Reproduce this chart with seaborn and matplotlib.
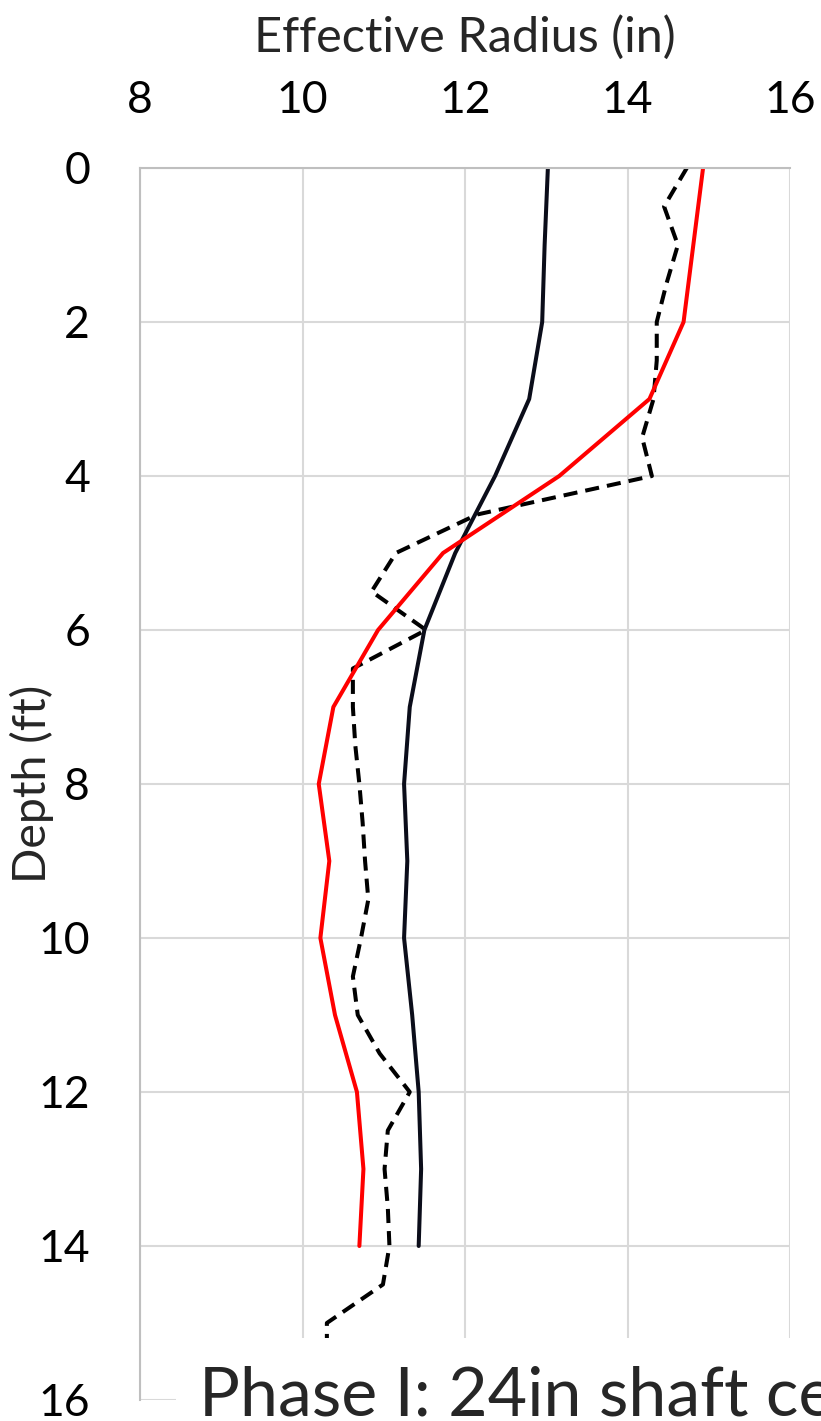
import numpy as np
import pandas as pd
import seaborn as sns
import matplotlib
matplotlib.use("Agg")
import matplotlib.pyplot as plt
from matplotlib.patches import Rectangle

# ---- data ----
depth_solid = [0, 1, 2, 3, 4, 5, 6, 7, 8, 9, 10, 11, 12, 13, 14]
radius_black = [13.02, 12.98, 12.95, 12.79, 12.37, 11.88, 11.50, 11.32, 11.25, 11.29,
                11.25, 11.35, 11.43, 11.46, 11.43]
radius_red = [14.93, 14.81, 14.69, 14.27, 13.16, 11.73, 10.93, 10.38, 10.20, 10.33,
              10.22, 10.40, 10.67, 10.75, 10.70]
depth_dashed = [0, 0.5, 1, 1.5, 2, 2.5, 3, 3.5, 4, 4.5, 5, 5.5, 6, 6.5, 7, 7.5, 8, 8.5,
                9, 9.5, 10, 10.5, 11, 11.5, 12, 12.5, 13, 13.5, 14, 14.5, 15, 15.5]
radius_dashed = [14.73, 14.45, 14.62, 14.48, 14.36, 14.36, 14.32, 14.18, 14.30, 12.15,
                 11.15, 10.85, 11.52, 10.62, 10.62, 10.65, 10.70, 10.74, 10.77, 10.81,
                 10.72, 10.62, 10.68, 10.95, 11.32, 11.05, 11.01, 11.05, 11.07, 10.99,
                 10.30, 10.30]
x_ticks = [8, 10, 12, 14, 16]
y_ticks = [0, 2, 4, 6, 8, 10, 12, 14, 16]
legend_text = "Phase I: 24in shaft ce"

sns.set_theme(style="white")
plt.rcParams["font.family"] = ["Lato", "DejaVu Sans"]

W, H = 821, 1421
fig = plt.figure(figsize=(W / 100, H / 100), dpi=100)
ax = fig.add_axes([140 / W, 1 - 1400 / H, 650 / W, 1232 / H])

df_b = pd.DataFrame({"r": radius_black, "d": depth_solid})
df_r = pd.DataFrame({"r": radius_red, "d": depth_solid})
df_k = pd.DataFrame({"r": radius_dashed, "d": depth_dashed})

sns.lineplot(data=df_k, x="r", y="d", orient="y", sort=False, estimator=None,
             color="black", lw=2.9, ax=ax, linestyle=(0, (3.5, 2.0)))
sns.lineplot(data=df_b, x="r", y="d", orient="y", sort=False, estimator=None,
             color="#0b0d1a", lw=2.9, ax=ax)
sns.lineplot(data=df_r, x="r", y="d", orient="y", sort=False, estimator=None,
             color="#ff0000", lw=2.9, ax=ax)

ax.set_xlim(8, 16)
ax.set_ylim(16, 0)
ax.set_xticks(x_ticks)
ax.set_yticks(y_ticks)
ax.xaxis.tick_top()
ax.xaxis.set_label_position("top")
ax.tick_params(axis="both", length=0, labelsize=32, colors="black")
ax.tick_params(axis="x", pad=34)
ax.tick_params(axis="y", pad=36)
ax.grid(True, color="#d9d9d9", lw=1.5)
for s in ["right", "bottom"]:
    ax.spines[s].set_visible(False)
for s in ["left", "top"]:
    ax.spines[s].set_color("#bfbfbf")
    ax.spines[s].set_linewidth(1.5)
ax.set_xlabel("Effective Radius (in)", fontsize=35)
ax.xaxis.set_label_coords(0.5, 1.094)
ax.set_ylabel("Depth (ft)", fontsize=33.5)
ax.yaxis.set_label_coords(-0.133, 0.5)

# legend-like box at bottom
fig.add_artist(Rectangle((176 / W, 0), 1, (1421 - 1338) / H, transform=fig.transFigure,
                         facecolor="white", edgecolor="none", zorder=10))
fig.text(199 / W, 1 - 1415 / H, legend_text, fontsize=49, ha="left", va="baseline",
         zorder=11)

fig.savefig("out.png", dpi=100)
